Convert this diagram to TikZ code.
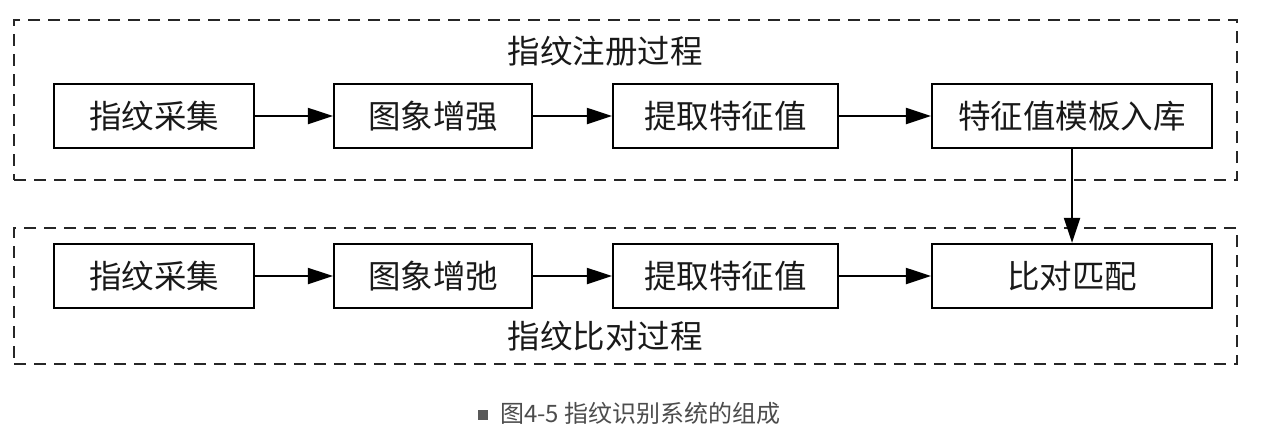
\documentclass[tikz,border=0pt]{standalone}
\usepackage{fontspec}
\newfontfamily\cjk{Noto Sans CJK SC}
\usetikzlibrary{arrows.meta}
\tikzset{
  stepbox/.style={draw=black, line width=2.2pt, rectangle, minimum height=64pt, inner sep=0pt,
    font=\cjk\fontsize{32.5}{36}\selectfont, text=black!90},
  groupbox/.style={draw=black!85, line width=2pt, dash pattern=on 12pt off 8pt, rectangle, inner sep=0pt},
  grouptitle/.style={font=\cjk\fontsize{32.5}{36}\selectfont, text=black!90, inner sep=0pt},
  flow/.style={line width=2pt, -{Triangle[length=25pt,width=16pt]}},
}
\begin{document}
\begin{tikzpicture}[x=1pt,y=-1pt]
\useasboundingbox (0,0) rectangle (1263,439);
% groups
\node[groupbox, minimum width=1223pt, minimum height=160pt] (g1) at (625.5,100) {};
\node[groupbox, minimum width=1223pt, minimum height=136pt] (g2) at (625.5,296) {};
\node[grouptitle] (t1) at (605,51) {指纹注册过程};
\node[grouptitle] (t2) at (605,336) {指纹比对过程};
% top row
\node[stepbox, minimum width=200pt] (a1) at (154,116) {指纹采集};
\node[stepbox, minimum width=198pt] (a2) at (433,116) {图象增强};
\node[stepbox, minimum width=225pt] (a3) at (725.5,116) {提取特征值};
\node[stepbox, minimum width=280pt] (a4) at (1072,116) {特征值模板入库};
% bottom row
\node[stepbox, minimum width=200pt] (b1) at (154,276) {指纹采集};
\node[stepbox, minimum width=198pt] (b2) at (433,276) {图象增弛};
\node[stepbox, minimum width=225pt] (b3) at (725.5,276) {提取特征值};
\node[stepbox, minimum width=280pt] (b4) at (1072,276) {比对匹配};
% arrows
\draw[flow] (a1) -- (a2);
\draw[flow] (a2) -- (a3);
\draw[flow] (a3) -- (a4);
\draw[flow] (b1) -- (b2);
\draw[flow] (b2) -- (b3);
\draw[flow] (b3) -- (b4);
\draw[flow] (a4) -- (b4);
% caption
\node[fill=black!65, minimum size=10pt, inner sep=0pt] (sq) at (483,415) {};
\node[anchor=west, font=\cjk\fontsize{24}{27}\selectfont, text=black!70, inner sep=0pt] (cap) at (500,413) {图4-5 指纹识别系统的组成};
\end{tikzpicture}
\end{document}
